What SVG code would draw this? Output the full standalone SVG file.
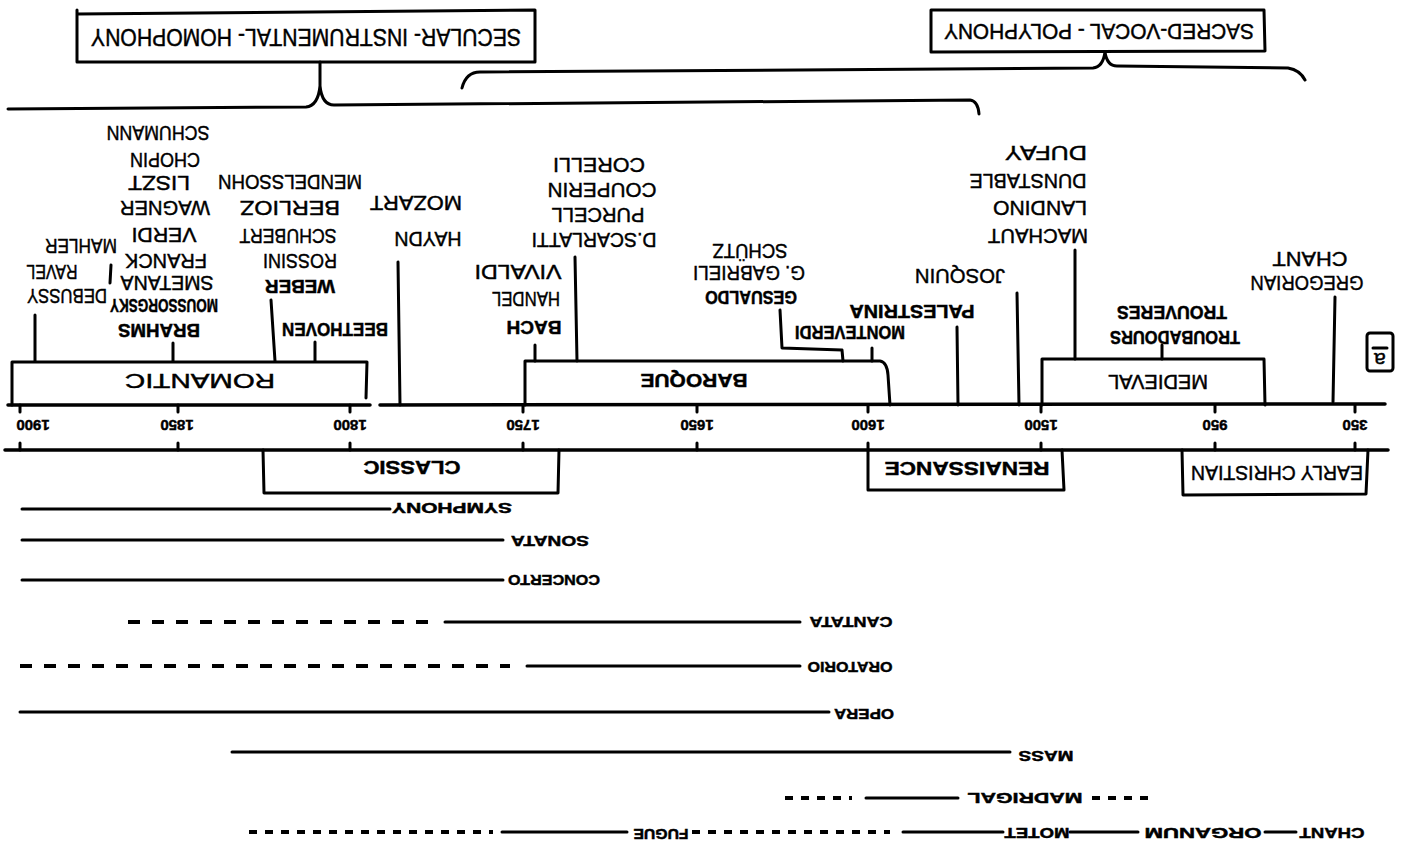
<svg xmlns="http://www.w3.org/2000/svg" width="1421" height="852" viewBox="0 0 1421 852">
<style>
.t{font-family:"Liberation Sans",Arial,sans-serif;text-anchor:middle;dominant-baseline:central;fill:#000;stroke:#000;stroke-width:0.45px}
.h1{font-size:24px}
.h2{font-size:22px}
.n{font-size:21px}
.b{font-size:18px;font-weight:700}
.p{font-size:20px}
.pb{font-size:19px;font-weight:700}
.y{font-size:15px;font-weight:700}
.g{font-size:15px;font-weight:700}
.ln{stroke:#000;stroke-width:3;fill:none;stroke-linecap:round;stroke-linejoin:round}
.ax{stroke:#000;stroke-width:3.5;fill:none;stroke-linecap:round}
.d1{stroke-dasharray:12 12;stroke-linecap:butt;stroke-width:4}
.d2{stroke-dasharray:8 8;stroke-linecap:butt;stroke-width:4}
</style>
<rect width="1421" height="852" fill="#fff"/>

<g id="title-secular">
<path class="ln" d="M77,10 L77,62 L535,62 L535,10 L77,14"/>
<text class="t h1" transform="translate(306 37) rotate(180)" textLength="430" lengthAdjust="spacingAndGlyphs">SECULAR- INSTRUMENTAL- HOMOPHONY</text>
</g>
<g id="title-sacred">
<path class="ln" d="M931,10 L931,52 L1265,51 L1264,10 Z"/>
<text class="t h2" transform="translate(1099 31) rotate(180)" textLength="310" lengthAdjust="spacingAndGlyphs">SACRED-VOCAL - POLYPHONY</text>
</g>

<g id="connectors">
<path class="ln" d="M8,109 L306,107 Q318,106 320,86 L320,62 M320,86 Q322,105 334,105 L970,100 Q978,101 979,114"/>
<path class="ln" d="M462,88 Q466,72 480,72 L1093,68 Q1103,67 1105,52 M1105,52 Q1107,66 1117,66 L1288,68 Q1300,70 1305,80"/>
<path class="ln" d="M35,315 L35,361 M173,343 L173,361 M271,300 L275,361 M315,342 L315,361 M398,262 L400,405"/>
<path class="ln" d="M535,345 L535,361 M575,257 L577,361 M780,310 L782,348 L842,350 L843,361 M872,348 L872,361 M957,327 L958,405 M1017,293 L1019,405"/>
<path class="ln" d="M1075,250 L1075,359 M1162,345 L1162,359 M1335,297 L1333,402"/>
<path class="ln" d="M111,265 L110,283"/>
</g>

<g id="romantic-composers">
<text class="t n" transform="translate(158 133) rotate(180)" textLength="103" lengthAdjust="spacingAndGlyphs">SCHUMANN</text>
<text class="t n" transform="translate(165 160) rotate(180)" textLength="70" lengthAdjust="spacingAndGlyphs">CHOPIN</text>
<text class="t n" transform="translate(159 183) rotate(180)" textLength="62" lengthAdjust="spacingAndGlyphs">LISZT</text>
<text class="t n" transform="translate(165 208) rotate(180)" textLength="90" lengthAdjust="spacingAndGlyphs">WAGNER</text>
<text class="t n" transform="translate(164 235) rotate(180)" textLength="65" lengthAdjust="spacingAndGlyphs">VERDI</text>
<text class="t n" transform="translate(166 261) rotate(180)" textLength="82" lengthAdjust="spacingAndGlyphs">FRANCK</text>
<text class="t n" transform="translate(167 283) rotate(180)" textLength="93" lengthAdjust="spacingAndGlyphs">SMETANA</text>
<text class="t b" transform="translate(164 305) rotate(180)" textLength="108" lengthAdjust="spacingAndGlyphs">MOUSSORGSKY</text>
<text class="t b" transform="translate(159 330) rotate(180)" textLength="82" lengthAdjust="spacingAndGlyphs">BRAHMS</text>
<text class="t n" transform="translate(81 246) rotate(180)" textLength="72" lengthAdjust="spacingAndGlyphs">MAHLER</text>
<text class="t n" transform="translate(52 272) rotate(180)" textLength="51" lengthAdjust="spacingAndGlyphs">RAVEL</text>
<text class="t n" transform="translate(67 296) rotate(180)" textLength="80" lengthAdjust="spacingAndGlyphs">DEBUSSY</text>
<text class="t n" transform="translate(290 182) rotate(180)" textLength="144" lengthAdjust="spacingAndGlyphs">MENDELSSOHN</text>
<text class="t n" transform="translate(290 208) rotate(180)" textLength="100" lengthAdjust="spacingAndGlyphs">BERLIOZ</text>
<text class="t n" transform="translate(288 236) rotate(180)" textLength="97" lengthAdjust="spacingAndGlyphs">SCHUBERT</text>
<text class="t n" transform="translate(300 261) rotate(180)" textLength="74" lengthAdjust="spacingAndGlyphs">ROSSINI</text>
<text class="t b" transform="translate(300 286) rotate(180)" textLength="70" lengthAdjust="spacingAndGlyphs">WEBER</text>
<text class="t b" transform="translate(335 329) rotate(180)" textLength="106" lengthAdjust="spacingAndGlyphs">BEETHOVEN</text>
<text class="t n" transform="translate(416 203) rotate(180)" textLength="92" lengthAdjust="spacingAndGlyphs">MOZART</text>
<text class="t n" transform="translate(428 239) rotate(180)" textLength="67" lengthAdjust="spacingAndGlyphs">HAYDN</text>
</g>

<g id="baroque-composers">
<text class="t n" transform="translate(599 165) rotate(180)" textLength="92" lengthAdjust="spacingAndGlyphs">CORELLI</text>
<text class="t n" transform="translate(602 190) rotate(180)" textLength="109" lengthAdjust="spacingAndGlyphs">COUPERIN</text>
<text class="t n" transform="translate(598 215) rotate(180)" textLength="93" lengthAdjust="spacingAndGlyphs">PURCELL</text>
<text class="t n" transform="translate(594 240) rotate(180)" textLength="125" lengthAdjust="spacingAndGlyphs">D.SCARLATTI</text>
<text class="t n" transform="translate(518 272) rotate(180)" textLength="87" lengthAdjust="spacingAndGlyphs">VIVALDI</text>
<text class="t n" transform="translate(526 299) rotate(180)" textLength="68" lengthAdjust="spacingAndGlyphs">HANDEL</text>
<text class="t b" transform="translate(534 327) rotate(180)" textLength="55" lengthAdjust="spacingAndGlyphs">BACH</text>
<text class="t n" transform="translate(750 251) rotate(180)" textLength="75" lengthAdjust="spacingAndGlyphs">SCHÜTZ</text>
<text class="t n" transform="translate(749 273) rotate(180)" textLength="112" lengthAdjust="spacingAndGlyphs">G. GABRIELI</text>
<text class="t b" transform="translate(751 297) rotate(180)" textLength="92" lengthAdjust="spacingAndGlyphs">GESUALDO</text>
<text class="t b" transform="translate(850 332) rotate(180)" textLength="110" lengthAdjust="spacingAndGlyphs">MONTEVERDI</text>
</g>

<g id="renaissance-composers">
<text class="t b" transform="translate(912 311) rotate(180)" textLength="125" lengthAdjust="spacingAndGlyphs">PALESTRINA</text>
<text class="t n" transform="translate(960 276) rotate(180)" textLength="90" lengthAdjust="spacingAndGlyphs">JOSQUIN</text>
</g>

<g id="medieval-composers">
<text class="t n" transform="translate(1046 153) rotate(180)" textLength="82" lengthAdjust="spacingAndGlyphs">DUFAY</text>
<text class="t n" transform="translate(1028 181) rotate(180)" textLength="117" lengthAdjust="spacingAndGlyphs">DUNSTABLE</text>
<text class="t n" transform="translate(1040 208) rotate(180)" textLength="94" lengthAdjust="spacingAndGlyphs">LANDINO</text>
<text class="t n" transform="translate(1038 236) rotate(180)" textLength="100" lengthAdjust="spacingAndGlyphs">MACHAUT</text>
<text class="t b" transform="translate(1172 312) rotate(180)" textLength="110" lengthAdjust="spacingAndGlyphs">TROUVERES</text>
<text class="t b" transform="translate(1175 337) rotate(180)" textLength="130" lengthAdjust="spacingAndGlyphs">TROUBADOURS</text>
<text class="t n" transform="translate(1307 283) rotate(180)" textLength="113" lengthAdjust="spacingAndGlyphs">GREGORIAN</text>
<text class="t n" transform="translate(1310 259) rotate(180)" textLength="75" lengthAdjust="spacingAndGlyphs">CHANT</text>
</g>

<g id="page-mark">
<rect class="ln" x="1367" y="333" width="26" height="38" rx="3"/>
<path class="ln" d="M1373,348 L1387,348"/>
<text class="t n" transform="translate(1380 360) rotate(180)">a</text>
</g>

<g id="period-romantic">
<path class="ln" d="M12,405 L12,362 L367,362 L366,398"/>
<text class="t p" transform="translate(200 381) rotate(180)" textLength="150" lengthAdjust="spacingAndGlyphs">ROMANTIC</text>
</g>
<g id="period-baroque">
<path class="ln" d="M525,405 L525,361 L880,361 Q887,362 888,375 L890,405"/>
<text class="t pb" transform="translate(694 380) rotate(180)" textLength="107" lengthAdjust="spacingAndGlyphs">BAROQUE</text>
</g>
<g id="period-medieval">
<path class="ln" d="M1042,405 L1042,359 L1264,359 L1265,405"/>
<text class="t p" transform="translate(1158 382) rotate(180)" textLength="100" lengthAdjust="spacingAndGlyphs">MEDIEVAL</text>
</g>
<g id="period-classic">
<path class="ln" d="M263,450 L264,493 L558,493 L559,450"/>
<text class="t pb" transform="translate(412 467) rotate(180)" textLength="97" lengthAdjust="spacingAndGlyphs">CLASSIC</text>
</g>
<g id="period-renaissance">
<path class="ln" d="M868,450 L868,490 L1064,490 L1062,450"/>
<text class="t pb" transform="translate(967 468) rotate(180)" textLength="165" lengthAdjust="spacingAndGlyphs">RENAISSANCE</text>
</g>
<g id="period-early-christian">
<path class="ln" d="M1182,450 L1183,495 L1366,494 L1368,450"/>
<text class="t p" transform="translate(1277 473) rotate(180)" textLength="172" lengthAdjust="spacingAndGlyphs">EARLY CHRISTIAN</text>
</g>

<g id="timeline-axis">
<path class="ax" d="M8,405 L370,405 M380,405 L1385,404 M5,450 L1388,450"/>
<path class="ln" d="M20,405 L20,412 M178,405 L178,412 M350,405 L350,412 M523,405 L523,412 M697,405 L697,412 M868,405 L868,412 M1041,405 L1041,412 M1215,405 L1215,412 M1355,405 L1355,412"/>
<path class="ln" d="M20,443 L20,450 M178,443 L178,450 M350,443 L350,450 M523,443 L523,450 M697,443 L697,450 M868,443 L868,450 M1041,443 L1041,450 M1215,443 L1215,450 M1355,443 L1355,450"/>
<text class="t y" transform="translate(33 425) rotate(180)">1900</text>
<text class="t y" transform="translate(177 425) rotate(180)">1850</text>
<text class="t y" transform="translate(350 425) rotate(180)">1800</text>
<text class="t y" transform="translate(523 425) rotate(180)">1750</text>
<text class="t y" transform="translate(697 425) rotate(180)">1650</text>
<text class="t y" transform="translate(868 425) rotate(180)">1600</text>
<text class="t y" transform="translate(1041 425) rotate(180)">1500</text>
<text class="t y" transform="translate(1215 425) rotate(180)">950</text>
<text class="t y" transform="translate(1355 425) rotate(180)">350</text>
</g>

<g id="genre-symphony">
<path class="ln" d="M22,509 L390,509"/>
<text class="t g" transform="translate(452 508) rotate(180)" textLength="120" lengthAdjust="spacingAndGlyphs">SYMPHONY</text>
</g>
<g id="genre-sonata">
<path class="ln" d="M22,540 L503,540"/>
<text class="t g" transform="translate(550 541) rotate(180)" textLength="78" lengthAdjust="spacingAndGlyphs">SONATA</text>
</g>
<g id="genre-concerto">
<path class="ln" d="M22,580 L503,580"/>
<text class="t g" transform="translate(554 580) rotate(180)" textLength="92" lengthAdjust="spacingAndGlyphs">CONCERTO</text>
</g>
<g id="genre-cantata">
<path class="ln d1" d="M128,622 L432,622"/>
<path class="ln" d="M445,622 L800,622"/>
<text class="t g" transform="translate(851 622) rotate(180)" textLength="83" lengthAdjust="spacingAndGlyphs">CANTATA</text>
</g>
<g id="genre-oratorio">
<path class="ln d1" d="M20,666 L510,666"/>
<path class="ln" d="M527,666 L800,666"/>
<text class="t g" transform="translate(850 667) rotate(180)" textLength="85" lengthAdjust="spacingAndGlyphs">ORATORIO</text>
</g>
<g id="genre-opera">
<path class="ln" d="M20,712 L829,712"/>
<text class="t g" transform="translate(864 714) rotate(180)" textLength="60" lengthAdjust="spacingAndGlyphs">OPERA</text>
</g>
<g id="genre-mass">
<path class="ln" d="M232,752 L1010,752"/>
<text class="t g" transform="translate(1046 756) rotate(180)" textLength="55" lengthAdjust="spacingAndGlyphs">MASS</text>
</g>
<g id="genre-madrigal">
<path class="ln d2" d="M785,798 L852,798"/>
<path class="ln" d="M866,798 L958,798"/>
<text class="t g" transform="translate(1025 798) rotate(180)" textLength="115" lengthAdjust="spacingAndGlyphs">MADRIGAL</text>
<path class="ln d2" d="M1092,798 L1152,798"/>
</g>
<g id="genre-chant-organum-motet-fugue">
<path class="ln d2" d="M249,832 L493,832"/>
<path class="ln" d="M502,832 L627,832"/>
<text class="t g" transform="translate(661 834) rotate(180)" textLength="55" lengthAdjust="spacingAndGlyphs">FUGUE</text>
<path class="ln d2" d="M692,832 L890,832"/>
<path class="ln" d="M903,832 L1003,832"/>
<text class="t g" transform="translate(1037 833) rotate(180)" textLength="65" lengthAdjust="spacingAndGlyphs">MOTET</text>
<path class="ln" d="M1070,832 L1138,832"/>
<text class="t g" transform="translate(1203 833) rotate(180)" textLength="117" lengthAdjust="spacingAndGlyphs">ORGANUM</text>
<path class="ln" d="M1265,832 L1296,832"/>
<text class="t g" transform="translate(1332 833) rotate(180)" textLength="65" lengthAdjust="spacingAndGlyphs">CHANT</text>
</g>
</svg>
